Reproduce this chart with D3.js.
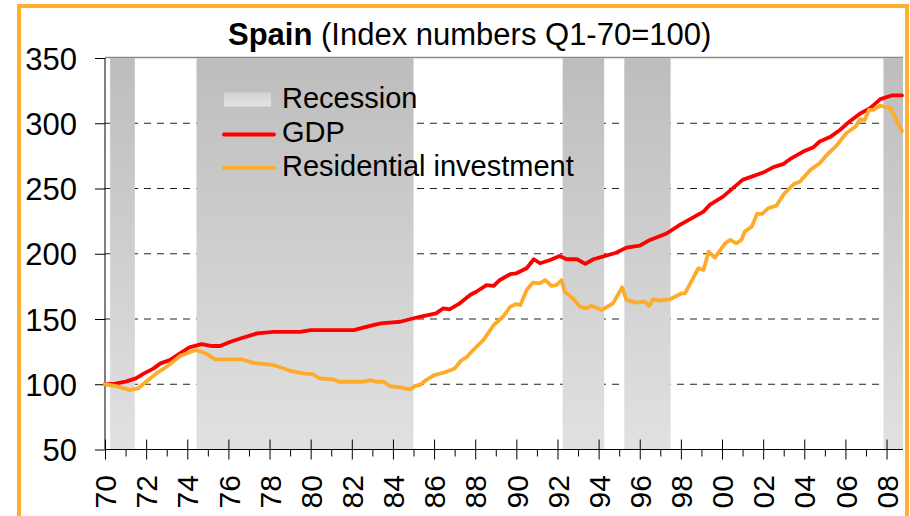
<!DOCTYPE html>
<html><head><meta charset="utf-8">
<script src="https://cdn.jsdelivr.net/npm/d3@7"></script>
<style>body{margin:0;background:#fff}svg{display:block;font-family:"Liberation Sans",Arial,sans-serif}</style>
</head><body><svg id="c" width="910" height="516"></svg>
<script>
// ---- data ----
const gdpYears = [1970.0,1970.5,1971.0,1971.5,1971.9,1972.35,1972.7,1973.15,1973.65,1974.1,1974.7,1975.2,1975.6,1976.1,1976.7,1977.4,1978.2,1979.5,1980.0,1982.1,1982.6,1983.4,1984.0,1984.35,1985.3,1986.1,1986.45,1986.75,1987.25,1987.75,1988.05,1988.55,1988.9,1989.2,1989.7,1990.0,1990.5,1990.85,1991.15,1991.65,1992.1,1992.45,1992.95,1993.35,1993.75,1994.2,1994.85,1995.35,1996.0,1996.5,1997.3,1997.95,1999.1,1999.4,2000.05,2001.0,2002.0,2002.5,2003.0,2003.3,2003.95,2004.45,2004.75,2005.25,2005.75,2006.2,2006.7,2007.2,2007.7,2008.25,2008.75];
const gdpValues = [100,100.5,102,104.5,108.3,112,116,118.5,123.7,128.3,130.8,129.3,129.3,132.6,135.6,139,140.2,140.2,141.5,141.5,143.6,146.7,147.4,147.9,151.7,154.3,158.2,157.4,162,168.4,170.9,176,175.3,179.9,184.3,185,188.9,195.8,192.7,195.2,198.3,195.8,195.8,192.2,195.8,197.8,200.8,204.7,206.2,210.6,215.5,222.1,232.3,237.4,243.8,256.6,262.2,266.4,268.9,272.5,278.3,281.7,286,289.4,295,301.4,307.3,311.6,318.5,321.3,321.3];
const riYears = [1970.0,1970.55,1971.2,1971.6,1972.0,1972.5,1973.0,1973.65,1974.3,1974.45,1974.95,1975.35,1976.7,1977.2,1978.2,1979.0,1979.65,1980.1,1980.45,1981.1,1981.4,1982.55,1982.9,1983.2,1983.55,1983.85,1984.35,1984.85,1985.05,1985.3,1985.6,1986.0,1986.5,1987.0,1987.3,1987.6,1987.9,1988.4,1988.9,1989.35,1989.7,1990.0,1990.2,1990.5,1990.8,1991.15,1991.4,1991.7,1991.95,1992.2,1992.35,1992.75,1993.1,1993.4,1993.65,1994.15,1994.7,1995.15,1995.35,1995.85,1996.25,1996.45,1996.65,1996.98,1997.47,1998.05,1998.2,1998.85,1999.1,1999.35,1999.65,2000.15,2000.4,2000.7,2000.95,2001.1,2001.45,2001.7,2001.95,2002.25,2002.65,2003.0,2003.5,2003.8,2004.3,2004.75,2005.1,2005.6,2006.05,2006.5,2006.7,2006.95,2007.15,2007.35,2007.7,2008.2,2008.75];
const riValues = [100,98.6,95.5,96.8,101.9,108.3,113.4,121.6,125.7,126.2,123.1,119,119,116.4,114.7,110.3,108.3,107.8,104.5,103.7,101.9,101.9,103.2,101.9,101.9,98.6,97.6,96,98.6,99.3,103,107,109,112,118,121,126.2,133.9,145.4,151.7,159.4,161.5,160.7,172.2,177.8,177.4,179.9,175.3,176,179.9,170.9,165.8,159.4,158.2,160.2,156.9,162,174.3,164.6,162.5,163.3,160,165.1,164,165.1,169.7,169.7,188.9,187.6,201.6,197,208,210.6,208,210.6,217,220.8,230.5,230.5,234.9,236.9,245.6,253.5,255.3,264.3,269.4,275.8,283.5,292.5,297.5,302.7,302.7,310.3,310.3,313.4,311.6,293.8];
const recessionStarts = [1970.25,1974.45,1992.25,1995.25,2007.85];
const recessionEnds   = [1971.45,1985.0,1994.27,1997.5,2008.8];
const yTickValues = [50,100,150,200,250,300,350];
const yGridValues = [100,150,200,250,300];
const xMajorYears = [1970,1972,1974,1976,1978,1980,1982,1984,1986,1988,1990,1992,1994,1996,1998,2000,2002,2004,2006,2008];
const xMinorYears = [1971,1973,1975,1977,1979,1981,1983,1985,1987,1989,1991,1993,1995,1997,1999,2001,2003,2005,2007];
const seriesNames = ["GDP","Residential investment"];
const seriesColors = ["#ff0000","#ffab2a"];
const titleBold = "Spain";
const titleRest = " (Index numbers Q1-70=100)";

// ---- drawing ----
const svg = d3.select("#c");
const L=105, R=903, T=58, B=449.5;
const x = d3.scaleLinear().domain([1970, 2008.8]).range([L, R]);
const y = d3.scaleLinear().domain([50, 350]).range([B, T]);

const defs = svg.append("defs");
const g1 = defs.append("linearGradient").attr("id","band").attr("gradientUnits","userSpaceOnUse")
  .attr("x1",0).attr("x2",0).attr("y1",T).attr("y2",B);
g1.append("stop").attr("offset","0%").attr("stop-color","#bdbdbd");
g1.append("stop").attr("offset","100%").attr("stop-color","#e1e1e1");
const g2 = defs.append("linearGradient").attr("id","sw").attr("x1",0).attr("x2",0).attr("y1",0).attr("y2",1);
g2.append("stop").attr("offset","0%").attr("stop-color","#d2d2d2");
g2.append("stop").attr("offset","100%").attr("stop-color","#e4e4e4");

svg.append("rect").attr("width",910).attr("height",516).attr("fill","#fff");
svg.append("rect").attr("x",19).attr("y",6).attr("width",888).attr("height",600)
  .attr("fill","none").attr("stroke","#ffb02e").attr("stroke-width",4);

// gridlines
svg.append("g").selectAll("line").data(yGridValues).join("line")
  .attr("x1",L).attr("x2",R).attr("y1",d=>y(d)).attr("y2",d=>y(d))
  .attr("stroke","#222").attr("stroke-width",1).attr("stroke-dasharray","7,6");
// plot top border
svg.append("line").attr("x1",L).attr("x2",R).attr("y1",T-0.5).attr("y2",T-0.5)
  .attr("stroke","#8a8a8a").attr("stroke-width",1.5);

// recession bands
svg.append("g").selectAll("rect").data(recessionStarts).join("rect")
  .attr("x",(d)=>x(d)).attr("width",(d,i)=>x(recessionEnds[i])-x(d))
  .attr("y",T).attr("height",B-T).attr("fill","url(#band)");

// axes
const yAxis = svg.append("g").attr("transform",`translate(${L},0)`)
  .call(d3.axisLeft(y).tickValues(yTickValues).tickSize(10).tickPadding(18).tickFormat(d3.format("d")));
yAxis.select(".domain").attr("d",`M0,${T}V${B}`).attr("stroke","#000");
yAxis.selectAll("text").attr("font-size",31).attr("font-family","Liberation Sans, Arial, sans-serif").attr("fill","#000").attr("dy","0.36em");

const xAxis = svg.append("g").attr("transform",`translate(0,${B})`)
  .call(d3.axisBottom(x).tickValues(xMajorYears).tickSize(10).tickFormat(d=>String(d%100).padStart(2,"0")));
xAxis.select(".domain").attr("d",`M${L},0H${R}`).attr("stroke","#000");
xAxis.selectAll(".tick line").attr("y1",-10).attr("y2",10);
xAxis.selectAll("text").attr("font-size",30).attr("font-family","Liberation Sans, Arial, sans-serif").attr("fill","#000")
  .attr("text-anchor","end").attr("dy",null).attr("y",null)
  .attr("transform","translate(10.7,25.5) rotate(-90)");
const xMinor = svg.append("g").attr("transform",`translate(0,${B})`)
  .call(d3.axisBottom(x).tickValues(xMinorYears).tickSize(7).tickFormat(""));
xMinor.select(".domain").remove();

// lines
const line = d3.line().x(d=>x(d[0])).y(d=>y(d[1]));
const gdpPts = gdpYears.map((t,i)=>[t,gdpValues[i]]);
const riPts = riYears.map((t,i)=>[t,riValues[i]]);
[gdpPts, riPts].forEach((pts,i)=>{
  svg.append("path").datum(pts).attr("d",line).attr("fill","none")
    .attr("stroke",seriesColors[i]).attr("stroke-width",3.8)
    .attr("stroke-linejoin","round").attr("stroke-linecap","round");
});
// redraw GDP on top? (reference shows orange over red at crossings near 2007)
// legend
const lg = svg.append("g").attr("font-size",29).attr("fill","#000");
lg.append("rect").attr("x",224).attr("y",92.5).attr("width",47).attr("height",14).attr("fill","url(#sw)");
lg.append("text").attr("x",282).attr("y",107.5).text("Recession");
seriesNames.forEach((n,i)=>{
  const yy = 134.5 + i*33.3;
  lg.append("line").attr("x1",224).attr("x2",274).attr("y1",yy).attr("y2",yy)
    .attr("stroke",seriesColors[i]).attr("stroke-width",3.8).attr("stroke-linecap","round");
  lg.append("text").attr("x",282).attr("y",yy+7.5+(i?0.5:0)).text(n);
});
// title
const tt = svg.append("text").attr("x",228).attr("y",45).attr("font-size",31).attr("fill","#000");
tt.append("tspan").attr("font-weight","bold").text(titleBold);
tt.append("tspan").text(titleRest);
</script></body></html>
